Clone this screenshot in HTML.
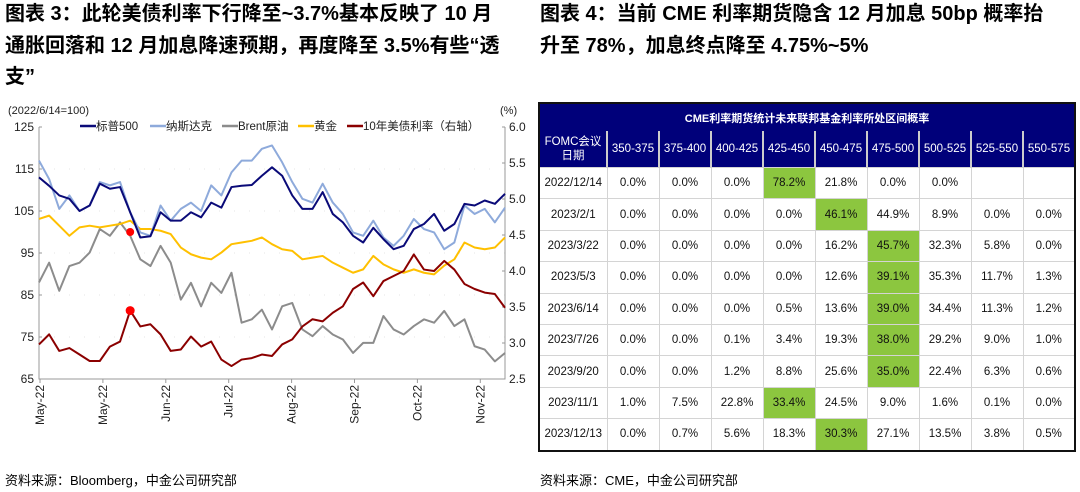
<!DOCTYPE html>
<html><head><meta charset="utf-8">
<style>
body{margin:0;width:1080px;height:492px;background:#fff;overflow:hidden;font-family:"Liberation Sans","Noto Sans CJK SC",sans-serif;position:relative}
.t{position:absolute;font-weight:bold;font-size:20px;color:#000;line-height:31.5px;white-space:nowrap}
.src{position:absolute;font-size:13px;color:#000;top:470px}
table{position:absolute;left:538px;top:102px;width:538px;border-collapse:collapse;border:2px solid #111;font-size:11.5px;table-layout:fixed}
td{border:1px solid #d4d4d4;text-align:center;height:30.4px;padding:0;color:#111}
.h1 td{background:#00007a;color:#fff;font-weight:bold;height:27px;font-size:11px;border:none}
.h2 td{background:#00007a;color:#fff;height:36px;border:none;border-left:2px solid #ccc;font-size:11.5px;line-height:14px}
.g{background:#8cc63f}
</style></head><body>
<div class="t" style="left:5px;top:-1px">图表 3：此轮美债利率下行降至~3.7%基本反映了 10 月<br>通胀回落和 12 月加息降速预期，再度降至 3.5%有些“透<br>支”</div>
<div class="t" style="left:540px;top:-1px">图表 4：当前 CME 利率期货隐含 12 月加息 50bp 概率抬<br>升至 78%，加息终点降至 4.75%~5%</div>
<svg id="chart" style="position:absolute;left:0;top:95px" width="535" height="335"></svg>
<div class="src" style="left:5px">资料来源：Bloomberg，中金公司研究部</div>
<div class="src" style="left:540px">资料来源：CME，中金公司研究部</div>
<table id="tbl"></table>
<script>
const xLabels=["May-22","May-22","Jun-22","Jul-22","Aug-22","Sep-22","Oct-22","Nov-22"];
const leftTicks=[125,115,105,95,85,75,65];
const rightTicks=["6.0","5.5","5.0","4.5","4.0","3.5","3.0","2.5"];
const sp500=[113,111,108.7,107.9,105,106.3,111.5,110.3,110.7,104.7,98.7,99,104.7,102.7,102.7,104.7,103.5,107,105.8,110.7,111,111.2,113.4,115.4,113.4,108.7,105.5,105.5,109.5,104.3,102.3,99.1,97.5,101,98.3,95.9,96.7,100.7,101.9,104.3,100.3,101.9,106.7,106.3,107.5,106.7,109.1];
const nasdaq=[117,112.6,105.5,108.7,105,106.3,111.9,111.1,111.9,104.7,99.9,99.1,106.3,102.7,105.5,107,105,111.1,108.7,114.2,117,117,119.8,120.6,116.6,111.9,107.9,107,111.5,107,104.3,99.9,99.1,102.7,98.7,96.7,99.1,103.1,100.7,99.9,95.9,97.5,106.3,104.3,105.5,102.3,105.8];
const brent=[88,92.7,86,91.9,92.7,95.1,100.7,99.1,102.3,99.1,93.5,91.9,96.7,92.7,83.9,87.9,82.3,87.9,85.5,90.3,78.4,79.2,81.5,76.8,82.3,83.1,76.8,75.2,77.6,75.6,74.4,71.2,73.6,73.6,80,76.8,75.6,77.6,79.2,78.4,81.2,77.6,79.2,72.8,72,69.2,71.2];
const gold=[103.1,103.9,101.5,99.1,101.1,101.5,101.1,101.5,101.9,102.7,100.7,100.7,100.3,99.5,96.3,94.7,93.9,93.5,95.1,97.1,97.5,97.9,98.7,97.1,95.9,95.5,93.5,93.9,94.3,92.7,91.5,90.3,91.1,94.3,92.3,91.1,90.3,91.1,90.3,89.9,92,93.5,97.5,96.3,95.9,96.3,98.7];
const ust10y=[2.98,3.12,2.89,2.93,2.84,2.75,2.75,2.95,3.02,3.45,3.23,3.26,3.12,2.89,2.91,3.09,2.95,3.02,2.77,2.68,2.77,2.79,2.84,2.82,2.98,3.05,3.23,3.33,3.30,3.42,3.51,3.75,3.84,3.65,3.86,3.93,4.00,4.23,4.02,4.00,4.14,4.02,3.82,3.75,3.70,3.68,3.49];
const markIdx=[9];const markLeft=[100];const markRight=[3.45];
const NS="http://www.w3.org/2000/svg";
const svg=document.getElementById('chart');
const X0=39,X1=505,Y0=32,Y1=284;
const n=sp500.length;
const xs=i=>X0+i*(X1-X0)/(n-1);
const yl=v=>Y0+(125-v)*(Y1-Y0)/60;
const yr=v=>Y0+(6-v)*(Y1-Y0)/3.5;
function el(t,a){const e=document.createElementNS(NS,t);for(const k in a)e.setAttribute(k,a[k]);svg.appendChild(e);return e;}
function txt(x,y,s,a){const e=el('text',Object.assign({x:x,y:y,'font-size':11.5,fill:'#222','font-family':'"Liberation Sans","Noto Sans CJK SC",sans-serif'},a||{}));e.textContent=s;return e;}
leftTicks.forEach((v,i)=>{if(i>0&&i<leftTicks.length-1){const g=el('line',{x1:X0,x2:X1,y1:yl(v),y2:yl(v),stroke:'#e4e4e4','stroke-dasharray':'1 14'});}});
const ax=el('path',{d:`M${X0},${Y0}V${Y1}H${X1}V${Y0}`,fill:'none',stroke:'#999','stroke-width':1});

leftTicks.forEach(v=>{const t=txt(34,yl(v)+4,String(v),{'text-anchor':'end','font-size':12});el('line',{x1:X0,x2:X0+3,y1:yl(v),y2:yl(v),stroke:'#999'});});
rightTicks.forEach(v=>{const t=txt(509,yr(+v)+4,v,{'font-size':12});el('line',{x1:X1-3,x2:X1,y1:yr(+v),y2:yr(+v),stroke:'#999'});});
xLabels.forEach((s,i)=>{const x=X0+1+i*62.9;el('line',{x1:x,x2:x,y1:Y1,y2:Y1+4,stroke:'#999'});const t=txt(0,0,s,{'text-anchor':'end',transform:`translate(${x+4},${Y1+6}) rotate(-90)`,'font-size':12});});
const u1=txt(8,19,'(2022/6/14=100)',{'font-size':11});
const u2=txt(500,19,'(%)',{'font-size':11});
function line(arr,f,c,name){const p=el('polyline',{points:arr.map((v,i)=>xs(i)+','+f(v)).join(' '),fill:'none',stroke:c,'stroke-width':2,'stroke-linejoin':'round'});}
line(brent,yl,'#8c8c8c','brent-line');
line(gold,yl,'#ffc000','gold-line');
line(nasdaq,yl,'#8eaadb','nasdaq-line');
line(sp500,yl,'#0a0a78','sp500-line');
line(ust10y,yr,'#8b0000','ust10y-line');
markIdx.forEach((m,i)=>{const x=xs(m);
const a=el('circle',{cx:x,cy:yl(markLeft[i]),r:4,fill:'#ff0000'});
const b=el('circle',{cx:x,cy:yr(markRight[i]),r:4.5,fill:'#ff0000'});});
const leg=[['标普500','#0a0a78',80],['纳斯达克','#8eaadb',150],['Brent原油','#8c8c8c',222],['黄金','#ffc000',298],['10年美债利率（右轴）','#8b0000',347]];
leg.forEach(l=>{const g=el('g',{});
const ln=document.createElementNS(NS,'line');ln.setAttribute('x1',l[2]);ln.setAttribute('x2',l[2]+16);ln.setAttribute('y1',31);ln.setAttribute('y2',31);ln.setAttribute('stroke',l[1]);ln.setAttribute('stroke-width',2.5);g.appendChild(ln);
const t=txt(l[2]+16,35,l[0],{'font-size':11.5});g.appendChild(t);});
const cols=["350-375","375-400","400-425","425-450","450-475","475-500","500-525","525-550","550-575"];
const dates=["2022/12/14","2023/2/1","2023/3/22","2023/5/3","2023/6/14","2023/7/26","2023/9/20","2023/11/1","2023/12/13"];
const probs=[
["0.0%","0.0%","0.0%","78.2%","21.8%","0.0%","0.0%","",""],
["0.0%","0.0%","0.0%","0.0%","46.1%","44.9%","8.9%","0.0%","0.0%"],
["0.0%","0.0%","0.0%","0.0%","16.2%","45.7%","32.3%","5.8%","0.0%"],
["0.0%","0.0%","0.0%","0.0%","12.6%","39.1%","35.3%","11.7%","1.3%"],
["0.0%","0.0%","0.0%","0.5%","13.6%","39.0%","34.4%","11.3%","1.2%"],
["0.0%","0.0%","0.1%","3.4%","19.3%","38.0%","29.2%","9.0%","1.0%"],
["0.0%","0.0%","1.2%","8.8%","25.6%","35.0%","22.4%","6.3%","0.6%"],
["1.0%","7.5%","22.8%","33.4%","24.5%","9.0%","1.6%","0.1%","0.0%"],
["0.0%","0.7%","5.6%","18.3%","30.3%","27.1%","13.5%","3.8%","0.5%"]];
const tb=document.getElementById('tbl');
let h='<colgroup><col style="width:68px">'+cols.map(()=>'<col>').join('')+'</colgroup>';
h+='<tr class="h1"><td colspan="10">CME利率期货统计未来联邦基金利率所处区间概率</td></tr>';
h+='<tr class="h2"><td style="border-left:none">FOMC会议<br>日期</td>'+cols.map(c=>'<td>'+c+'</td>').join('')+'</tr>';
probs.forEach((r,i)=>{let mx=-1,mi=-1;r.forEach((v,j)=>{const f=parseFloat(v);if(!isNaN(f)&&f>mx){mx=f;mi=j;}});
h+='<tr><td>'+dates[i]+'</td>'+r.map((v,j)=>'<td'+(j===mi?' class="g"':'')+'>'+v+'</td>').join('')+'</tr>';});
tb.innerHTML=h;
</script>
</body></html>
